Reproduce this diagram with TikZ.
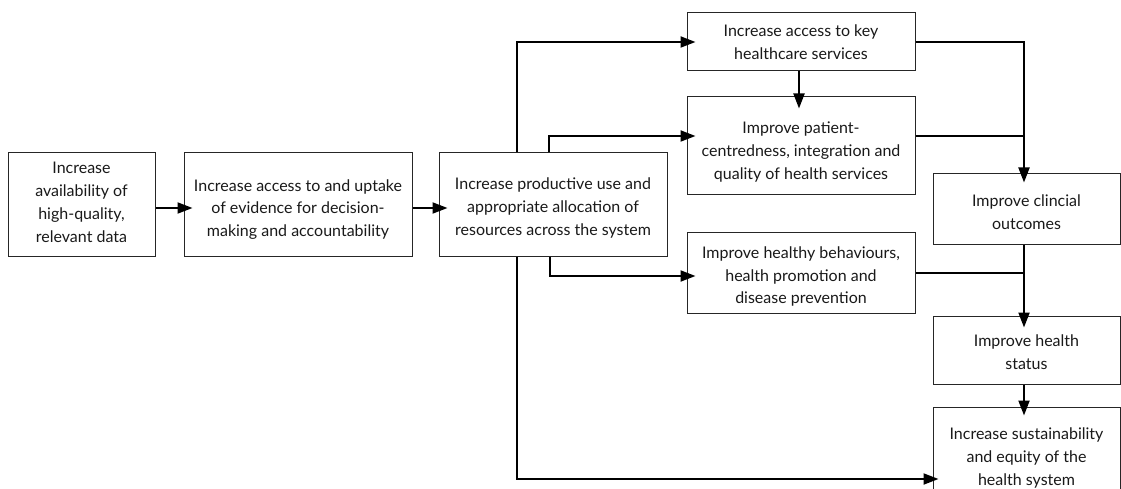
\documentclass[tikz,border=0pt]{standalone}
\usepackage{fontspec}
\setmainfont{Lato}
\usetikzlibrary{arrows.meta}
\begin{document}
\begin{tikzpicture}[x=1pt,y=-1pt,
  box/.style={draw=black!85, line width=1pt, inner sep=0pt},
  txt/.style={align=center, inner sep=0pt, font=\fontsize{16}{22.8}\selectfont, text=black!90},
  arr/.style={line width=2pt, -{Triangle[length=15pt,width=11pt]}, shorten >=-9pt},
  joinline/.style={line width=1.4pt}]
\useasboundingbox (0,0) rectangle (1121,489);
\node[box, minimum width=147pt, minimum height=103pt,
  label={[txt,yshift=2pt]center:{Increase\\availability of\\high-quality,\\relevant data}}] (A) at (81.5,204.5) {};
\node[box, minimum width=228pt, minimum height=103pt,
  label={[txt,yshift=-5pt]center:{Increase access to and uptake\\of evidence for decision-\\making and accountability}}] (B) at (298,204.5) {};
\node[box, minimum width=228pt, minimum height=103pt,
  label={[txt,yshift=-3.5pt]center:{Increase productive use and\\appropriate allocation of\\resources across the system}}] (C) at (553,204.5) {};
\node[box, minimum width=228pt, minimum height=58pt,
  label={[txt]center:{Increase access to key\\healthcare services}}] (D) at (801,42) {};
\node[box, minimum width=228pt, minimum height=98pt,
  label={[txt,yshift=-6pt]center:{Improve patient-\\centredness, integration and\\quality of health services}}] (E) at (801,146) {};
\node[box, minimum width=228pt, minimum height=81pt,
  label={[txt,yshift=-4pt]center:{Improve healthy behaviours,\\health promotion and\\disease prevention}}] (F) at (801,272.5) {};
\node[box, minimum width=187pt, minimum height=70pt,
  label={[txt,yshift=-3.5pt]center:{Improve clincial\\outcomes}}] (G) at (1026.5,209) {};
\node[box, minimum width=187pt, minimum height=68pt,
  label={[txt,yshift=-2.5pt]center:{Improve health\\status}}] (H) at (1026.5,350) {};
\node[box, minimum width=187pt, minimum height=112pt,
  label={[txt,yshift=5pt]center:{Increase sustainability\\and equity of the\\health system}}] (I) at (1026.5,463) {};
\coordinate (j1) at (1024,136);
\coordinate (j2) at (1024,273);
% arrows
\draw[arr] ([yshift=-3.5pt]A.east) -- ([yshift=-3.5pt]B.west);
\draw[arr] ([yshift=-3.5pt]B.east) -- ([yshift=-3.5pt]C.west);
\draw[arr] ([xshift=-36pt]C.north) |- (D.west);
\draw[arr] ([xshift=-4pt]C.north) |- ([yshift=10pt]E.west);
\draw[arr] ([xshift=-3pt]C.south) |- ([yshift=-3.5pt]F.west);
\draw[arr, shorten >=-6pt] ([xshift=-36pt]C.south) |- ([yshift=-16pt]I.west);
\draw[arr, shorten >=-12pt] ([xshift=-2pt]D.south) -- ([xshift=-2pt]E.north);
\draw[arr] (D.east) -| ([xshift=-2.5pt]G.north);
\draw[joinline] ([yshift=10pt]E.east) -- (j1);
\draw[joinline] ([yshift=-0.5pt]F.east) -- (j2);
\draw[arr, shorten >=-12pt] ([xshift=-2.5pt]G.south) -- ([xshift=-2.5pt]H.north);
\draw[arr] ([xshift=-2.5pt]H.south) -- ([xshift=-2.5pt]I.north);
\end{tikzpicture}
\end{document}
